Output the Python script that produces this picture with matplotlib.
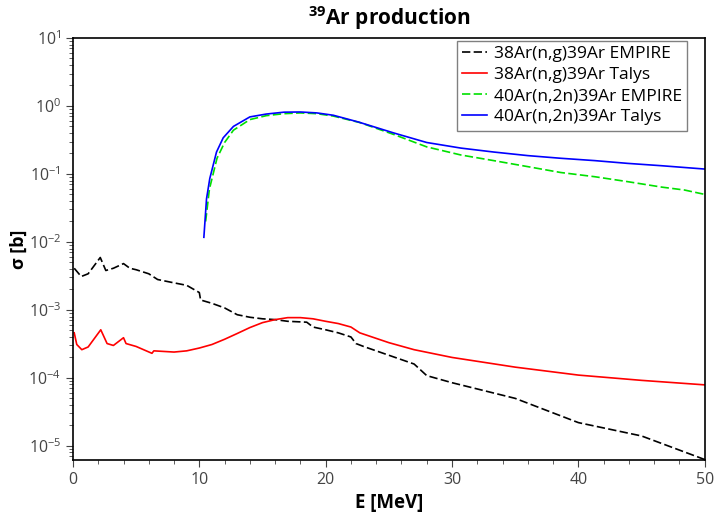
import matplotlib
matplotlib.use("Agg")
import matplotlib.pyplot as plt
from matplotlib.ticker import MultipleLocator, LogLocator

plt.rcParams["font.family"] = ["Open Sans", "DejaVu Sans"]
plt.rcParams["mathtext.fontset"] = "custom"
plt.rcParams["mathtext.rm"] = "Open Sans"
plt.rcParams["mathtext.bf"] = "Open Sans:bold"

# 38Ar(n,g)39Ar EMPIRE
e_ng_empire = [0.1, 0.65, 1.2, 2.16, 2.6, 3.2, 4.0, 4.5, 5.0, 6.0, 6.7, 8.0, 9.0, 10.0, 10.1,
               11.0, 12.0, 13.0, 14.0, 15.0, 16.0, 17.0, 18.5, 19.0, 20.0, 21.0, 22.0, 22.4,
               23.0, 27.0, 28.0, 30.0, 35.0, 40.0, 45.0, 50.0]
s_ng_empire = [4.1e-3, 3.1e-3, 3.4e-3, 5.9e-3, 3.8e-3, 4.1e-3, 4.8e-3, 4.1e-3, 3.9e-3, 3.4e-3,
               2.8e-3, 2.5e-3, 2.3e-3, 1.8e-3, 1.4e-3, 1.25e-3, 1.07e-3, 8.5e-4, 7.8e-4, 7.4e-4,
               7.2e-4, 6.8e-4, 6.6e-4, 5.6e-4, 5.1e-4, 4.6e-4, 4.0e-4, 3.2e-4, 2.9e-4, 1.6e-4,
               1.08e-4, 8.5e-5, 5.0e-5, 2.2e-5, 1.4e-5, 6.3e-6]

# 38Ar(n,g)39Ar Talys
e_ng_talys = [0.1, 0.3, 0.7, 1.2, 2.2, 2.7, 3.2, 4.0, 4.2, 5.0, 6.25, 6.4, 8.0, 9.0, 10.0,
              11.0, 12.0, 13.0, 14.0, 15.0, 16.0, 17.0, 18.0, 19.0, 20.0, 21.0, 22.0, 22.7,
              25.0, 27.0, 30.0, 35.0, 40.0, 45.0, 50.0]
s_ng_talys = [4.6e-4, 3.1e-4, 2.6e-4, 2.85e-4, 5.1e-4, 3.2e-4, 3.0e-4, 3.9e-4, 3.2e-4, 2.9e-4,
              2.3e-4, 2.5e-4, 2.4e-4, 2.5e-4, 2.75e-4, 3.1e-4, 3.7e-4, 4.5e-4, 5.5e-4, 6.5e-4,
              7.2e-4, 7.7e-4, 7.7e-4, 7.4e-4, 6.8e-4, 6.3e-4, 5.6e-4, 4.6e-4, 3.3e-4, 2.6e-4,
              2.0e-4, 1.44e-4, 1.1e-4, 9.2e-5, 7.9e-5]

# 40Ar(n,2n)39Ar EMPIRE
e_n2n_empire = [10.5, 10.8, 11.4, 12.0, 12.7, 14.0, 15.3, 16.7, 18.0, 19.3, 20.6, 22.7, 25.4,
                28.0, 30.7, 33.3, 36.0, 38.6, 41.3, 43.9, 46.6, 48.4, 50.0]
s_n2n_empire = [0.02, 0.06, 0.17, 0.29, 0.44, 0.63, 0.72, 0.77, 0.79, 0.77, 0.71, 0.57, 0.38,
                0.25, 0.19, 0.157, 0.128, 0.105, 0.091, 0.077, 0.064, 0.058, 0.050]

# 40Ar(n,2n)39Ar Talys
e_n2n_talys = [10.36, 10.57, 10.83, 11.36, 11.89, 12.7, 14.0, 15.3, 16.7, 18.0, 19.3, 20.6,
               22.6, 25.4, 28.0, 30.7, 33.3, 36.0, 38.6, 41.3, 43.9, 46.6, 50.0]
s_n2n_talys = [0.0117, 0.043, 0.086, 0.21, 0.34, 0.50, 0.69, 0.76, 0.81, 0.815, 0.79, 0.73,
               0.58, 0.40, 0.29, 0.24, 0.21, 0.186, 0.17, 0.157, 0.143, 0.132, 0.118]

fig = plt.figure(figsize=(7.14, 5.13), dpi=100)
ax = fig.add_axes([0.1022, 0.1033, 0.8848, 0.8227])

ax.plot(e_ng_empire, s_ng_empire, color="black", lw=1.2, dashes=(5, 2),
        label="38Ar(n,g)39Ar EMPIRE")
ax.plot(e_ng_talys, s_ng_talys, color="red", lw=1.2, label="38Ar(n,g)39Ar Talys")
ax.plot(e_n2n_empire, s_n2n_empire, color="#00e000", lw=1.2, dashes=(5, 2),
        label="40Ar(n,2n)39Ar EMPIRE")
ax.plot(e_n2n_talys, s_n2n_talys, color="blue", lw=1.2, label="40Ar(n,2n)39Ar Talys")

ax.set_yscale("log")
ax.set_xlim(0, 50)
ax.set_ylim(6.2e-6, 10)
ax.xaxis.set_major_locator(MultipleLocator(10))
ax.xaxis.set_minor_locator(MultipleLocator(2))
ax.yaxis.set_major_locator(LogLocator(base=10, numticks=20))
ax.yaxis.set_minor_locator(LogLocator(base=10, subs=range(2, 10), numticks=20))
ax.tick_params(which="both", direction="out", top=False, right=False,
               labelsize=11.5, labelcolor="#444444", color="#444444")
ax.tick_params(which="major", length=5)
ax.tick_params(which="minor", length=3)
for sp in ax.spines.values():
    sp.set_linewidth(1.2)

ax.set_xlabel("E [MeV]", fontsize=13.5, fontweight="bold", labelpad=4)
ax.set_ylabel("σ [b]", fontsize=13, fontweight="bold", labelpad=0)
ax.set_title(r"$\mathbf{^{39}}$Ar production", fontsize=15, fontweight="bold", pad=9)

leg = ax.legend(loc="upper right", bbox_to_anchor=(0.972, 0.993), fontsize=12.5,
                fancybox=False, framealpha=1, edgecolor="#808080", handlelength=1.4,
                handletextpad=0.4, borderpad=0.3, labelspacing=0.28, borderaxespad=0)
leg.get_frame().set_linewidth(1.0)

fig.savefig("out.png", dpi=100)
